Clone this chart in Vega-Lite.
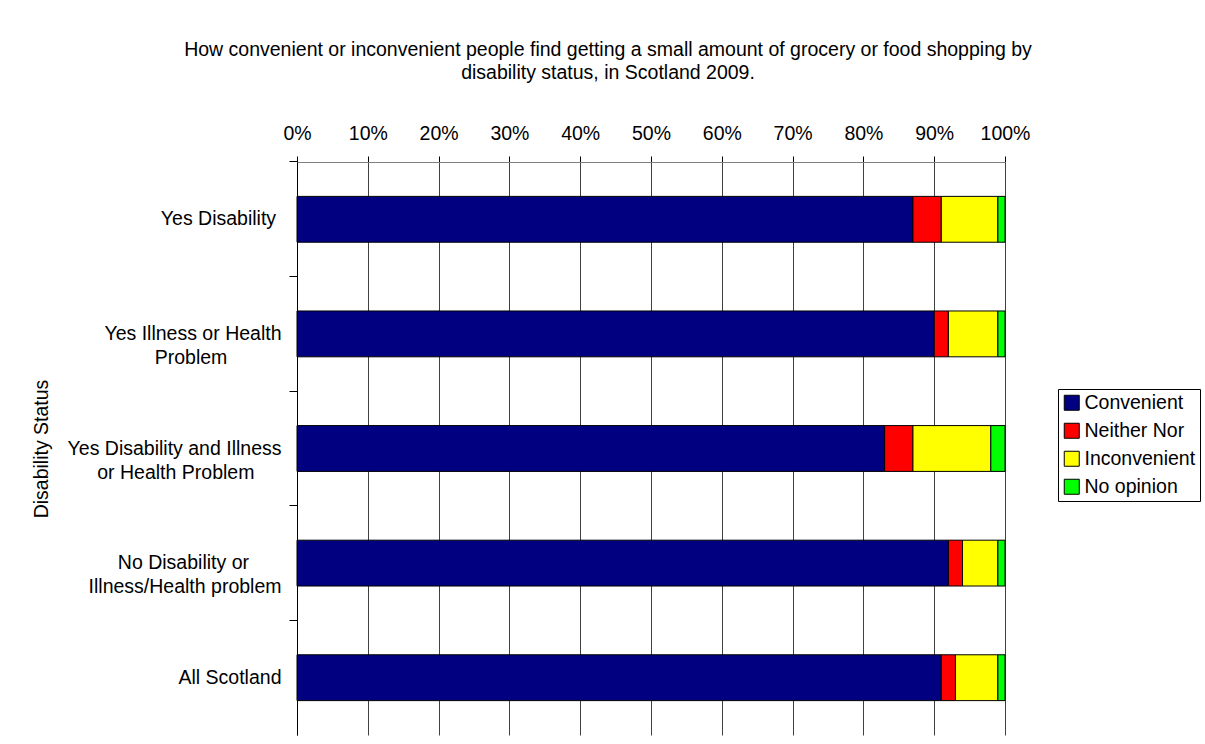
{
  "$schema": "https://vega.github.io/schema/vega-lite/v6.json",
  "autosize": {"type": "none"},
  "width": 708,
  "height": 573,
  "padding": {"left": 297, "top": 162, "right": 200, "bottom": 9},
  "background": "white",
  "title": {
    "text": ["How convenient or inconvenient people find getting a small amount of grocery or food shopping by", "disability status, in Scotland 2009."],
    "font": "Liberation Sans",
    "fontSize": 19.5,
    "fontWeight": "normal",
    "color": "black",
    "lineHeight": 23,
    "anchor": "middle",
    "frame": "group",
    "dx": -43,
    "offset": 40
  },
  "data": {
    "values": [
      {"status": "Yes Disability", "response": "Convenient", "k": 1, "pct": 87},
      {"status": "Yes Disability", "response": "Neither Nor", "k": 2, "pct": 4},
      {"status": "Yes Disability", "response": "Inconvenient", "k": 3, "pct": 8},
      {"status": "Yes Disability", "response": "No opinion", "k": 4, "pct": 1},
      {"status": "Yes Illness or Health Problem", "response": "Convenient", "k": 1, "pct": 90},
      {"status": "Yes Illness or Health Problem", "response": "Neither Nor", "k": 2, "pct": 2},
      {"status": "Yes Illness or Health Problem", "response": "Inconvenient", "k": 3, "pct": 7},
      {"status": "Yes Illness or Health Problem", "response": "No opinion", "k": 4, "pct": 1},
      {"status": "Yes Disability and Illness or Health Problem", "response": "Convenient", "k": 1, "pct": 83},
      {"status": "Yes Disability and Illness or Health Problem", "response": "Neither Nor", "k": 2, "pct": 4},
      {"status": "Yes Disability and Illness or Health Problem", "response": "Inconvenient", "k": 3, "pct": 11},
      {"status": "Yes Disability and Illness or Health Problem", "response": "No opinion", "k": 4, "pct": 2},
      {"status": "No Disability or Illness/Health problem", "response": "Convenient", "k": 1, "pct": 92},
      {"status": "No Disability or Illness/Health problem", "response": "Neither Nor", "k": 2, "pct": 2},
      {"status": "No Disability or Illness/Health problem", "response": "Inconvenient", "k": 3, "pct": 5},
      {"status": "No Disability or Illness/Health problem", "response": "No opinion", "k": 4, "pct": 1},
      {"status": "All Scotland", "response": "Convenient", "k": 1, "pct": 91},
      {"status": "All Scotland", "response": "Neither Nor", "k": 2, "pct": 2},
      {"status": "All Scotland", "response": "Inconvenient", "k": 3, "pct": 6},
      {"status": "All Scotland", "response": "No opinion", "k": 4, "pct": 1}
    ]
  },
  "mark": {"type": "bar", "stroke": "black", "strokeWidth": 1},
  "encoding": {
    "y": {
      "field": "status",
      "type": "nominal",
      "sort": ["Yes Disability", "Yes Illness or Health Problem", "Yes Disability and Illness or Health Problem", "No Disability or Illness/Health problem", "All Scotland"],
      "scale": {"paddingInner": 0.6, "paddingOuter": 0.3},
      "axis": {
        "title": "Disability Status",
        "titleFont": "Liberation Sans",
        "titleFontSize": 19.5,
        "titleFontWeight": "normal",
        "titleColor": "black",
        "titleX": -246,
        "titleY": 286.5,
        "titleAlign": "center",
        "titleBaseline": "bottom",
        "titleAngle": -90,
        "labelFont": "Liberation Sans",
        "labelFontSize": 19.5,
        "labelColor": "black",
        "labelAlign": "right",
        "labelLineHeight": 24,
        "labelPadding": 8,
        "labelLimit": 400,
        "labelExpr": "datum.label == 'Yes Illness or Health Problem' ? ['Yes Illness or Health', 'Problem\u00a0\u00a0\u00a0\u00a0\u00a0\u00a0\u00a0\u00a0\u00a0\u00a0\u200b'] : datum.label == 'Yes Disability and Illness or Health Problem' ? ['Yes Disability and Illness', 'or Health Problem\u00a0\u00a0\u00a0\u00a0\u00a0\u200b'] : datum.label == 'No Disability or Illness/Health problem' ? ['No Disability or\u00a0\u00a0\u00a0\u00a0\u00a0\u00a0\u200b', 'Illness/Health problem'] : datum.label == 'Yes Disability' ? 'Yes Disability\u00a0\u200b' : datum.label",
        "bandPosition": -0.75,
        "tickSize": 8,
        "tickColor": "black",
        "domainColor": "black",
        "grid": false
      }
    },
    "x": {
      "field": "pct",
      "type": "quantitative",
      "stack": "zero",
      "scale": {"domain": [0, 100], "nice": false},
      "axis": {
        "orient": "top",
        "title": null,
        "values": [0, 10, 20, 30, 40, 50, 60, 70, 80, 90, 100],
        "labelExpr": "datum.value + '%'",
        "labelFont": "Liberation Sans",
        "labelFontSize": 19.5,
        "labelColor": "black",
        "labelPadding": 13,
        "labelFlush": false,
        "tickSize": 6,
        "tickColor": "black",
        "domainColor": "#808080",
        "grid": true,
        "gridColor": "#404040",
        "gridOpacity": 1
      }
    },
    "color": {
      "field": "response",
      "type": "nominal",
      "scale": {
        "domain": ["Convenient", "Neither Nor", "Inconvenient", "No opinion"],
        "range": ["#000080", "#ff0000", "#ffff00", "#00ff00"]
      },
      "legend": {
        "title": null,
        "orient": "none",
        "legendX": 761,
        "legendY": 227,
        "strokeColor": "black",
        "padding": 4,
        "symbolType": "square",
        "symbolSize": 225,
        "symbolStrokeColor": "black",
        "symbolStrokeWidth": 1,
        "symbolOpacity": 1,
        "labelFont": "Liberation Sans",
        "labelFontSize": 19.5,
        "labelColor": "black",
        "labelOffset": 3,
        "rowPadding": 7
      }
    },
    "order": {"field": "k", "type": "quantitative"}
  },
  "config": {
    "view": {"stroke": null}
  }
}
